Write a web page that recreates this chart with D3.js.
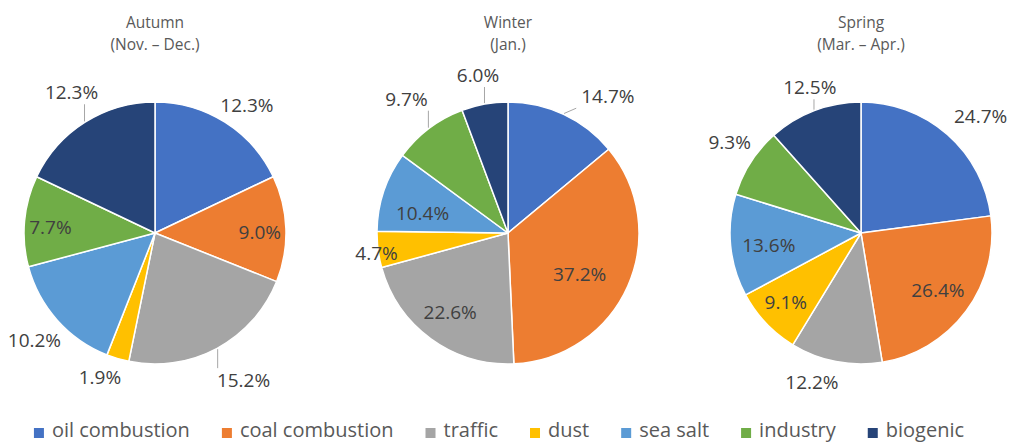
<!DOCTYPE html>
<html>
<head>
<meta charset="utf-8">
<script src="https://cdn.jsdelivr.net/npm/d3@7"></script>
<style>
  html, body { margin: 0; padding: 0; background: #fff; }
  svg { display: block; }
  text { font-family: "Open Sans", "Noto Sans", sans-serif; }
</style>
</head>
<body>
<svg id="chart" width="1013" height="443"></svg>
<script>
// Source categories (legend order = slice order, clockwise from 12 o'clock)
const categories = ["oil combustion", "coal combustion", "traffic", "dust", "sea salt", "industry", "biogenic"];
const seasons = ["Autumn", "Winter", "Spring"];
const periods = ["(Nov. \u2013 Dec.)", "(Jan.)", "(Mar. \u2013 Apr.)"];

// Contribution (%) of each source per season
const autumnShares = [12.3, 9.0, 15.2, 1.9, 10.2, 7.7, 12.3];
const winterShares = [14.7, 37.2, 22.6, 4.7, 10.4, 9.7, 6.0];
const springShares = [24.7, 26.4, 12.2, 9.1, 13.6, 9.3, 12.5];

const sliceColors = ["#4472C4", "#ED7D31", "#A5A5A5", "#FFC000", "#5B9BD5", "#70AD47", "#264478"];

// Label placement per slice: inside (rho = fraction of radius) or outside
// (push = extra distance past the rim, turn = angular nudge in degrees)
const labelPlacement = {
  Autumn: [
    { out: true, turn: 3.5 },
    { rho: 0.8, turn: 1.3 },
    { out: true, push: 16, turn: -2.7, leader: true },
    { out: true, push: 4, turn: 4.4 },
    { out: true, push: 1 },
    { rho: 0.8, turn: -2 },
    { out: true, push: 8, turn: 1.6, leader: true }
  ],
  Winter: [
    { out: true, push: 12, turn: 11, leader: true },
    { rho: 0.63, turn: 6 },
    { rho: 0.75 },
    { out: true, push: -25, turn: -1.4 },
    { rho: 0.67, turn: -5.4 },
    { out: true, push: 14, leader: true },
    { out: true, push: 14, turn: -0.5, leader: true }
  ],
  Spring: [
    { out: true, push: 7, turn: 4.5 },
    { rho: 0.73 },
    { out: true, push: 6, turn: 7.2 },
    { rho: 0.78, turn: 0.8 },
    { rho: 0.71, turn: -1.9 },
    { out: true, push: 2, turn: 1.8 },
    { out: true, push: 3, turn: 1.5, leader: true }
  ]
};

const seasonShares = { Autumn: autumnShares, Winter: winterShares, Spring: springShares };

const svg = d3.select("#chart");

const radius = 131;
const cy = 233;
const cx = d3.scalePoint().domain(seasons).range([155, 861]);
const color = d3.scaleOrdinal().domain(categories).range(sliceColors);

const pie = d3.pie().sort(null).value(d => d.value);
const arc = d3.arc().innerRadius(0).outerRadius(radius);

const labelSize = 19;
const gap = 5;
const halfH = 7;
const pad = 5;

seasons.forEach((season, si) => {
  const values = seasonShares[season];
  const rows = categories.map((c, i) => ({ category: c, value: values[i] }));
  const arcs = pie(rows);
  const g = svg.append("g").attr("transform", `translate(${cx(season)},${cy})`);

  // Two-line title above each pie
  const title = svg.append("text")
    .attr("text-anchor", "middle")
    .attr("fill", "#595959")
    .style("font-size", "15.5px");
  title.append("tspan").attr("x", cx(season)).attr("y", 28).text(season);
  title.append("tspan").attr("x", cx(season)).attr("y", 50).text(periods[si]);

  // Slices
  g.selectAll("path.slice")
    .data(arcs)
    .join("path")
    .attr("class", "slice")
    .attr("d", arc)
    .attr("fill", d => color(d.data.category))
    .attr("stroke", "#fff")
    .attr("stroke-width", 1.5)
    .attr("stroke-linejoin", "round");

  const leaders = g.append("g");
  const labels = g.append("g");

  arcs.forEach((d, i) => {
    const place = labelPlacement[season][i];
    const mid = (d.startAngle + d.endAngle) / 2;
    const theta = mid + (place.turn || 0) * Math.PI / 180;
    const ux = Math.sin(theta), uy = -Math.cos(theta);

    const t = labels.append("text")
      .attr("text-anchor", "middle")
      .attr("dy", "0.36em")
      .attr("fill", "#404040")
      .style("font-size", labelSize + "px")
      .text(d.data.value.toFixed(1) + "%");

    const w = t.node().getComputedTextLength() / 2;
    const dist = place.out
      ? radius + gap + w * Math.abs(ux) + halfH * Math.abs(uy) + (place.push || 0)
      : radius * place.rho;
    const lx = ux * dist, ly = uy * dist;
    t.attr("x", lx).attr("y", ly);

    if (place.leader) {
      // Leader from the rim at the slice's middle angle to the nearest edge of the label box
      const ax = Math.sin(mid) * (radius + 1), ay = -Math.cos(mid) * (radius + 1);
      const ex = Math.max(lx - w - pad, Math.min(lx + w + pad, ax));
      const ey = Math.max(ly - halfH - pad, Math.min(ly + halfH + pad, ay));
      leaders.append("line")
        .attr("x1", ax).attr("y1", ay)
        .attr("x2", ex).attr("y2", ey)
        .attr("stroke", "#A6A6A6")
        .attr("stroke-width", 1);
    }
  });
});

// Legend along the bottom, centred
const legend = svg.append("g");
const sw = 10, textGap = 8, itemGap = 32;
let x = 0;
categories.forEach(c => {
  const item = legend.append("g");
  item.append("rect")
    .attr("width", sw).attr("height", sw)
    .attr("y", 428)
    .attr("fill", color(c));
  const txt = item.append("text")
    .attr("x", sw + textGap)
    .attr("y", 437)
    .attr("fill", "#595959")
    .style("font-size", "20px")
    .text(c);
  item.attr("transform", `translate(${x},0)`);
  x += sw + textGap + txt.node().getComputedTextLength() + itemGap;
});
const total = x - itemGap;
legend.attr("transform", `translate(${499 - total / 2},0)`);
</script>
</body>
</html>
